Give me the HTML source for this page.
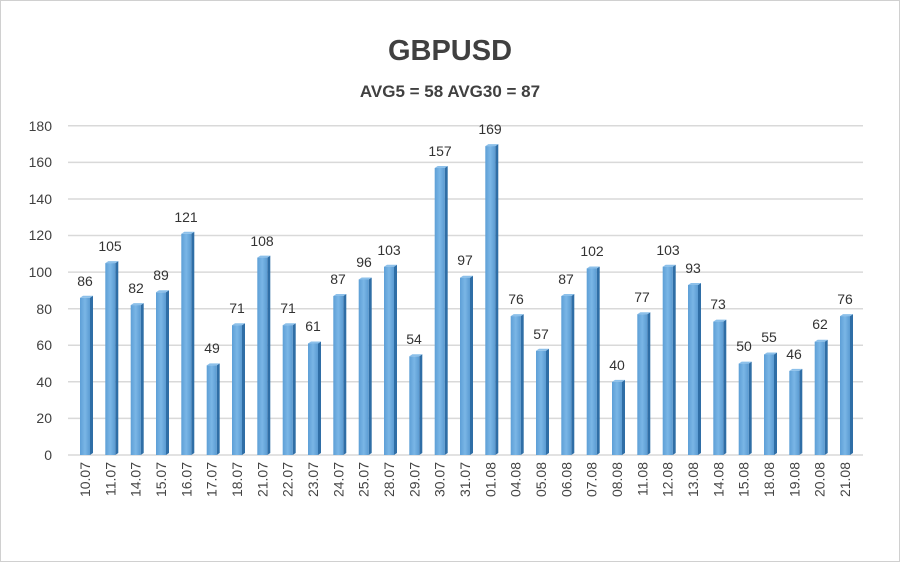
<!DOCTYPE html>
<html><head><meta charset="utf-8"><style>
html,body{margin:0;padding:0;background:#fff}
svg{display:block;font-family:"Liberation Sans",Arial,sans-serif}
</style></head><body>
<svg width="900" height="562" viewBox="0 0 900 562">
<defs>
<linearGradient id="f" x1="0" x2="1" y1="0" y2="0"><stop offset="0" stop-color="#5d9fd6"/><stop offset="0.5" stop-color="#7ab6e6"/><stop offset="1" stop-color="#5b9bd2"/></linearGradient>
</defs>
<rect x="0.5" y="0.5" width="899" height="561" fill="#fff" stroke="#d0d0d0"/>
<text x="450" y="60" text-anchor="middle" font-size="29" font-weight="bold" fill="#404040">GBPUSD</text>
<text x="450" y="97" text-anchor="middle" font-size="17" font-weight="bold" fill="#404040">AVG5 = 58 AVG30 = 87</text>
<g stroke="#d9d9d9" stroke-width="1.5">
<line x1="68" x2="863" y1="455" y2="455"/><line x1="68" x2="863" y1="418.4" y2="418.4"/><line x1="68" x2="863" y1="381.8" y2="381.8"/><line x1="68" x2="863" y1="345.3" y2="345.3"/><line x1="68" x2="863" y1="308.7" y2="308.7"/><line x1="68" x2="863" y1="272.1" y2="272.1"/><line x1="68" x2="863" y1="235.5" y2="235.5"/><line x1="68" x2="863" y1="199" y2="199"/><line x1="68" x2="863" y1="162.4" y2="162.4"/><line x1="68" x2="863" y1="125.8" y2="125.8"/>
</g>
<g font-size="14" fill="#404040" text-anchor="end">
<text x="52" y="460">0</text><text x="52" y="423">20</text><text x="52" y="387">40</text><text x="52" y="350">60</text><text x="52" y="314">80</text><text x="52" y="277">100</text><text x="52" y="240">120</text><text x="52" y="204">140</text><text x="52" y="167">160</text><text x="52" y="131">180</text>
</g>
<g id="bars">
<g transform="translate(85,297.8)"><polygon points="5,0 8,-2 8,155.2 5,157.2" fill="#2f6ea6"/><polygon points="-5,0 -2,-2 8,-2 5,0" fill="#8cc0ea"/><rect x="-5" y="0" width="10" height="157.2" fill="url(#f)"/></g>
<g transform="translate(110.3,263.1)"><polygon points="5,0 8,-2 8,189.9 5,191.9" fill="#2f6ea6"/><polygon points="-5,0 -2,-2 8,-2 5,0" fill="#8cc0ea"/><rect x="-5" y="0" width="10" height="191.9" fill="url(#f)"/></g>
<g transform="translate(135.7,305.1)"><polygon points="5,0 8,-2 8,147.9 5,149.9" fill="#2f6ea6"/><polygon points="-5,0 -2,-2 8,-2 5,0" fill="#8cc0ea"/><rect x="-5" y="0" width="10" height="149.9" fill="url(#f)"/></g>
<g transform="translate(161,292.3)"><polygon points="5,0 8,-2 8,160.7 5,162.7" fill="#2f6ea6"/><polygon points="-5,0 -2,-2 8,-2 5,0" fill="#8cc0ea"/><rect x="-5" y="0" width="10" height="162.7" fill="url(#f)"/></g>
<g transform="translate(186.3,233.8)"><polygon points="5,0 8,-2 8,219.2 5,221.2" fill="#2f6ea6"/><polygon points="-5,0 -2,-2 8,-2 5,0" fill="#8cc0ea"/><rect x="-5" y="0" width="10" height="221.2" fill="url(#f)"/></g>
<g transform="translate(211.7,365.4)"><polygon points="5,0 8,-2 8,87.6 5,89.6" fill="#2f6ea6"/><polygon points="-5,0 -2,-2 8,-2 5,0" fill="#8cc0ea"/><rect x="-5" y="0" width="10" height="89.6" fill="url(#f)"/></g>
<g transform="translate(237,325.2)"><polygon points="5,0 8,-2 8,127.8 5,129.8" fill="#2f6ea6"/><polygon points="-5,0 -2,-2 8,-2 5,0" fill="#8cc0ea"/><rect x="-5" y="0" width="10" height="129.8" fill="url(#f)"/></g>
<g transform="translate(262.3,257.6)"><polygon points="5,0 8,-2 8,195.4 5,197.4" fill="#2f6ea6"/><polygon points="-5,0 -2,-2 8,-2 5,0" fill="#8cc0ea"/><rect x="-5" y="0" width="10" height="197.4" fill="url(#f)"/></g>
<g transform="translate(287.7,325.2)"><polygon points="5,0 8,-2 8,127.8 5,129.8" fill="#2f6ea6"/><polygon points="-5,0 -2,-2 8,-2 5,0" fill="#8cc0ea"/><rect x="-5" y="0" width="10" height="129.8" fill="url(#f)"/></g>
<g transform="translate(313,343.5)"><polygon points="5,0 8,-2 8,109.5 5,111.5" fill="#2f6ea6"/><polygon points="-5,0 -2,-2 8,-2 5,0" fill="#8cc0ea"/><rect x="-5" y="0" width="10" height="111.5" fill="url(#f)"/></g>
<g transform="translate(338.3,296)"><polygon points="5,0 8,-2 8,157 5,159" fill="#2f6ea6"/><polygon points="-5,0 -2,-2 8,-2 5,0" fill="#8cc0ea"/><rect x="-5" y="0" width="10" height="159" fill="url(#f)"/></g>
<g transform="translate(363.7,279.5)"><polygon points="5,0 8,-2 8,173.5 5,175.5" fill="#2f6ea6"/><polygon points="-5,0 -2,-2 8,-2 5,0" fill="#8cc0ea"/><rect x="-5" y="0" width="10" height="175.5" fill="url(#f)"/></g>
<g transform="translate(389,266.7)"><polygon points="5,0 8,-2 8,186.3 5,188.3" fill="#2f6ea6"/><polygon points="-5,0 -2,-2 8,-2 5,0" fill="#8cc0ea"/><rect x="-5" y="0" width="10" height="188.3" fill="url(#f)"/></g>
<g transform="translate(414.3,356.3)"><polygon points="5,0 8,-2 8,96.7 5,98.7" fill="#2f6ea6"/><polygon points="-5,0 -2,-2 8,-2 5,0" fill="#8cc0ea"/><rect x="-5" y="0" width="10" height="98.7" fill="url(#f)"/></g>
<g transform="translate(439.7,168)"><polygon points="5,0 8,-2 8,285 5,287" fill="#2f6ea6"/><polygon points="-5,0 -2,-2 8,-2 5,0" fill="#8cc0ea"/><rect x="-5" y="0" width="10" height="287" fill="url(#f)"/></g>
<g transform="translate(465,277.7)"><polygon points="5,0 8,-2 8,175.3 5,177.3" fill="#2f6ea6"/><polygon points="-5,0 -2,-2 8,-2 5,0" fill="#8cc0ea"/><rect x="-5" y="0" width="10" height="177.3" fill="url(#f)"/></g>
<g transform="translate(490.3,146.1)"><polygon points="5,0 8,-2 8,306.9 5,308.9" fill="#2f6ea6"/><polygon points="-5,0 -2,-2 8,-2 5,0" fill="#8cc0ea"/><rect x="-5" y="0" width="10" height="308.9" fill="url(#f)"/></g>
<g transform="translate(515.7,316.1)"><polygon points="5,0 8,-2 8,136.9 5,138.9" fill="#2f6ea6"/><polygon points="-5,0 -2,-2 8,-2 5,0" fill="#8cc0ea"/><rect x="-5" y="0" width="10" height="138.9" fill="url(#f)"/></g>
<g transform="translate(541,350.8)"><polygon points="5,0 8,-2 8,102.2 5,104.2" fill="#2f6ea6"/><polygon points="-5,0 -2,-2 8,-2 5,0" fill="#8cc0ea"/><rect x="-5" y="0" width="10" height="104.2" fill="url(#f)"/></g>
<g transform="translate(566.3,296)"><polygon points="5,0 8,-2 8,157 5,159" fill="#2f6ea6"/><polygon points="-5,0 -2,-2 8,-2 5,0" fill="#8cc0ea"/><rect x="-5" y="0" width="10" height="159" fill="url(#f)"/></g>
<g transform="translate(591.7,268.5)"><polygon points="5,0 8,-2 8,184.5 5,186.5" fill="#2f6ea6"/><polygon points="-5,0 -2,-2 8,-2 5,0" fill="#8cc0ea"/><rect x="-5" y="0" width="10" height="186.5" fill="url(#f)"/></g>
<g transform="translate(617,381.9)"><polygon points="5,0 8,-2 8,71.1 5,73.1" fill="#2f6ea6"/><polygon points="-5,0 -2,-2 8,-2 5,0" fill="#8cc0ea"/><rect x="-5" y="0" width="10" height="73.1" fill="url(#f)"/></g>
<g transform="translate(642.3,314.2)"><polygon points="5,0 8,-2 8,138.8 5,140.8" fill="#2f6ea6"/><polygon points="-5,0 -2,-2 8,-2 5,0" fill="#8cc0ea"/><rect x="-5" y="0" width="10" height="140.8" fill="url(#f)"/></g>
<g transform="translate(667.7,266.7)"><polygon points="5,0 8,-2 8,186.3 5,188.3" fill="#2f6ea6"/><polygon points="-5,0 -2,-2 8,-2 5,0" fill="#8cc0ea"/><rect x="-5" y="0" width="10" height="188.3" fill="url(#f)"/></g>
<g transform="translate(693,285)"><polygon points="5,0 8,-2 8,168 5,170" fill="#2f6ea6"/><polygon points="-5,0 -2,-2 8,-2 5,0" fill="#8cc0ea"/><rect x="-5" y="0" width="10" height="170" fill="url(#f)"/></g>
<g transform="translate(718.3,321.6)"><polygon points="5,0 8,-2 8,131.4 5,133.4" fill="#2f6ea6"/><polygon points="-5,0 -2,-2 8,-2 5,0" fill="#8cc0ea"/><rect x="-5" y="0" width="10" height="133.4" fill="url(#f)"/></g>
<g transform="translate(743.7,363.6)"><polygon points="5,0 8,-2 8,89.4 5,91.4" fill="#2f6ea6"/><polygon points="-5,0 -2,-2 8,-2 5,0" fill="#8cc0ea"/><rect x="-5" y="0" width="10" height="91.4" fill="url(#f)"/></g>
<g transform="translate(769,354.5)"><polygon points="5,0 8,-2 8,98.5 5,100.5" fill="#2f6ea6"/><polygon points="-5,0 -2,-2 8,-2 5,0" fill="#8cc0ea"/><rect x="-5" y="0" width="10" height="100.5" fill="url(#f)"/></g>
<g transform="translate(794.3,370.9)"><polygon points="5,0 8,-2 8,82.1 5,84.1" fill="#2f6ea6"/><polygon points="-5,0 -2,-2 8,-2 5,0" fill="#8cc0ea"/><rect x="-5" y="0" width="10" height="84.1" fill="url(#f)"/></g>
<g transform="translate(819.7,341.7)"><polygon points="5,0 8,-2 8,111.3 5,113.3" fill="#2f6ea6"/><polygon points="-5,0 -2,-2 8,-2 5,0" fill="#8cc0ea"/><rect x="-5" y="0" width="10" height="113.3" fill="url(#f)"/></g>
<g transform="translate(845,316.1)"><polygon points="5,0 8,-2 8,136.9 5,138.9" fill="#2f6ea6"/><polygon points="-5,0 -2,-2 8,-2 5,0" fill="#8cc0ea"/><rect x="-5" y="0" width="10" height="138.9" fill="url(#f)"/></g>
</g>
<g font-size="14" fill="#333" text-anchor="middle">
<text x="85" y="286">86</text><text x="110" y="251">105</text><text x="136" y="293">82</text><text x="161" y="280">89</text><text x="186" y="222">121</text><text x="212" y="353">49</text><text x="237" y="313">71</text><text x="262" y="246">108</text><text x="288" y="313">71</text><text x="313" y="331">61</text><text x="338" y="284">87</text><text x="364" y="267">96</text><text x="389" y="255">103</text><text x="414" y="344">54</text><text x="440" y="156">157</text><text x="465" y="265">97</text><text x="490" y="134">169</text><text x="516" y="304">76</text><text x="541" y="339">57</text><text x="566" y="284">87</text><text x="592" y="256">102</text><text x="617" y="370">40</text><text x="642" y="302">77</text><text x="668" y="255">103</text><text x="693" y="273">93</text><text x="718" y="309">73</text><text x="744" y="351">50</text><text x="769" y="342">55</text><text x="794" y="359">46</text><text x="820" y="329">62</text><text x="845" y="304">76</text>
</g>
<g font-size="14" fill="#444" text-anchor="end">
<text transform="translate(90,462) rotate(-90)">10.07</text><text transform="translate(115.3,462) rotate(-90)">11.07</text><text transform="translate(140.7,462) rotate(-90)">14.07</text><text transform="translate(166,462) rotate(-90)">15.07</text><text transform="translate(191.3,462) rotate(-90)">16.07</text><text transform="translate(216.7,462) rotate(-90)">17.07</text><text transform="translate(242,462) rotate(-90)">18.07</text><text transform="translate(267.3,462) rotate(-90)">21.07</text><text transform="translate(292.7,462) rotate(-90)">22.07</text><text transform="translate(318,462) rotate(-90)">23.07</text><text transform="translate(343.3,462) rotate(-90)">24.07</text><text transform="translate(368.7,462) rotate(-90)">25.07</text><text transform="translate(394,462) rotate(-90)">28.07</text><text transform="translate(419.3,462) rotate(-90)">29.07</text><text transform="translate(444.7,462) rotate(-90)">30.07</text><text transform="translate(470,462) rotate(-90)">31.07</text><text transform="translate(495.3,462) rotate(-90)">01.08</text><text transform="translate(520.7,462) rotate(-90)">04.08</text><text transform="translate(546,462) rotate(-90)">05.08</text><text transform="translate(571.3,462) rotate(-90)">06.08</text><text transform="translate(596.7,462) rotate(-90)">07.08</text><text transform="translate(622,462) rotate(-90)">08.08</text><text transform="translate(647.3,462) rotate(-90)">11.08</text><text transform="translate(672.7,462) rotate(-90)">12.08</text><text transform="translate(698,462) rotate(-90)">13.08</text><text transform="translate(723.3,462) rotate(-90)">14.08</text><text transform="translate(748.7,462) rotate(-90)">15.08</text><text transform="translate(774,462) rotate(-90)">18.08</text><text transform="translate(799.3,462) rotate(-90)">19.08</text><text transform="translate(824.7,462) rotate(-90)">20.08</text><text transform="translate(850,462) rotate(-90)">21.08</text>
</g>
</svg>
</body></html>
